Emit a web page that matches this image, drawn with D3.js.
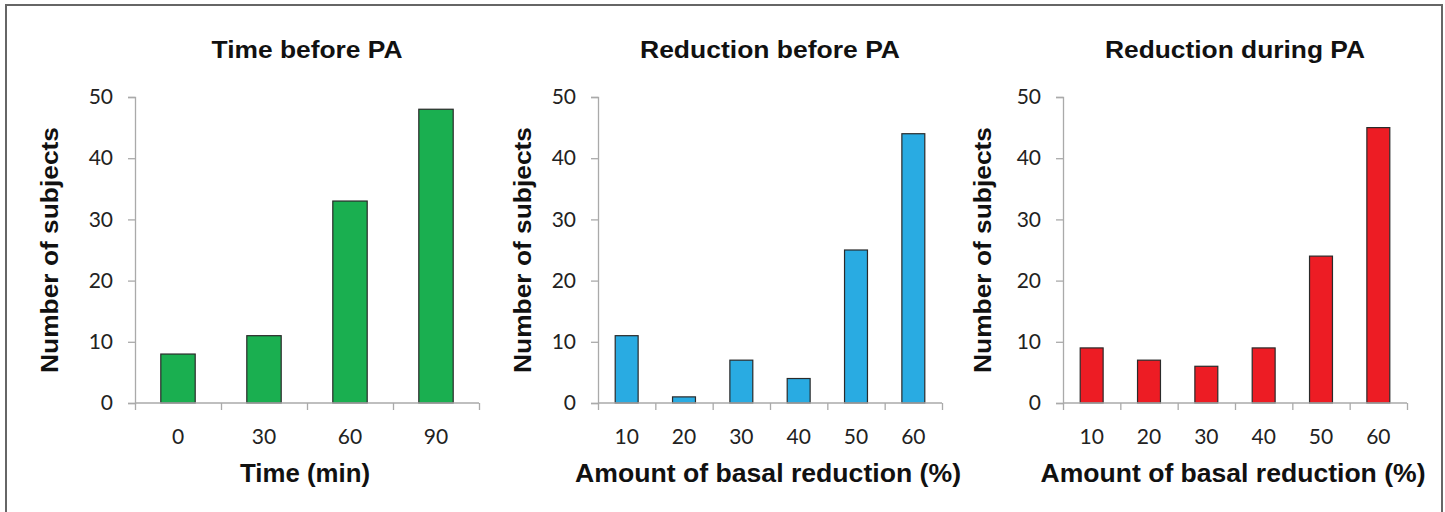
<!DOCTYPE html>
<html>
<head>
<meta charset="utf-8">
<script src="https://cdn.jsdelivr.net/npm/d3@7"></script>
<style>
  html, body { margin: 0; padding: 0; background: #fff; }
  svg { display: block; }
</style>
</head>
<body>
<svg id="chart" width="1445" height="512"></svg>
<script>
// ---- data ----
const titles = ["Time before PA", "Reduction before PA", "Reduction during PA"];
const xTitles = ["Time (min)", "Amount of basal reduction (%)", "Amount of basal reduction (%)"];
const yTitle = "Number of subjects";
const timeCats = ["0", "30", "60", "90"];
const timeValues = [8, 11, 33, 48];
const redCats = ["10", "20", "30", "40", "50", "60"];
const redBeforeValues = [11, 1, 7, 4, 25, 44];
const redDuringValues = [9, 7, 6, 9, 24, 45];
const yTicks = [0, 10, 20, 30, 40, 50];
const colors = ["#1aaf50", "#29abe2", "#ed1c24"];

// ---- layout ----
const panels = [
  { cats: timeCats, vals: timeValues, x0: 135, x1: 479, yLabX: 58, titleLen: 191, xTitleLen: 130 },
  { cats: redCats, vals: redBeforeValues, x0: 598, x1: 942, yLabX: 531, titleLen: 260, xTitleLen: 386 },
  { cats: redCats, vals: redDuringValues, x0: 1063, x1: 1407, yLabX: 991, titleLen: 260, xTitleLen: 385 }
];
const yTop = 97, yBot = 403;
const titleFont = "'Liberation Sans', Arial, Helvetica, sans-serif";
const tickFont = "Lato, 'Open Sans', sans-serif";

const svg = d3.select("#chart");

// outer frame
svg.append("rect")
  .attr("x", 6).attr("y", 5).attr("width", 1436).attr("height", 540)
  .attr("fill", "none").attr("stroke", "#666").attr("stroke-width", 2);

const y = d3.scaleLinear().domain([0, 50]).range([yBot, yTop]);

panels.forEach((p, i) => {
  const g = svg.append("g");
  const x = d3.scaleBand().domain(p.cats).range([p.x0, p.x1]).paddingInner(0.6).paddingOuter(0.3);
  const xb = d3.scaleLinear().domain([0, p.cats.length]).range([p.x0, p.x1]);

  // bars
  g.selectAll("rect.bar").data(p.vals).enter().append("rect")
    .attr("class", "bar")
    .attr("x", (d, j) => x(p.cats[j]))
    .attr("width", x.bandwidth())
    .attr("y", d => y(d))
    .attr("height", d => y(0) - y(d))
    .attr("fill", colors[i])
    .attr("stroke", "#2a2a2a")
    .attr("stroke-width", 1.2);

  // y axis
  const ya = g.append("g").attr("transform", `translate(${p.x0},0)`)
    .call(d3.axisLeft(y).tickValues(yTicks).tickSize(7).tickPadding(15).tickFormat(d3.format("d")));
  ya.select(".domain").attr("stroke", "#aaa").attr("stroke-width", 1.3);
  ya.selectAll(".tick line").attr("stroke", "#aaa").attr("stroke-width", 1.3);
  ya.selectAll(".tick text").attr("font-family", tickFont).attr("font-size", 21).attr("fill", "#222");

  // x axis boundary ticks
  const xa = g.append("g").attr("transform", `translate(0,${yBot})`)
    .call(d3.axisBottom(xb).tickValues(d3.range(p.cats.length + 1)).tickSize(7).tickFormat(""));
  xa.select(".domain").attr("stroke", "#aaa").attr("stroke-width", 1.3).attr("d", `M${p.x0},0H${p.x1}`);
  xa.selectAll(".tick line").attr("stroke", "#aaa").attr("stroke-width", 1.3);

  // x category labels
  const xl = g.append("g").attr("transform", `translate(0,${yBot})`)
    .call(d3.axisBottom(x).tickSize(0).tickPadding(26));
  xl.select(".domain").remove();
  xl.selectAll(".tick text").attr("font-family", tickFont).attr("font-size", 21).attr("fill", "#222");

  const cx = (p.x0 + p.x1) / 2;
  // title
  g.append("text").text(titles[i])
    .attr("x", cx).attr("y", 58).attr("text-anchor", "middle")
    .attr("font-family", titleFont).attr("font-weight", "bold").attr("font-size", 23)
    .attr("textLength", p.titleLen).attr("lengthAdjust", "spacingAndGlyphs").attr("fill", "#111");
  // x title
  g.append("text").text(xTitles[i])
    .attr("x", cx - 2).attr("y", 482).attr("text-anchor", "middle")
    .attr("font-family", titleFont).attr("font-weight", "bold").attr("font-size", 26)
    .attr("textLength", p.xTitleLen).attr("lengthAdjust", "spacingAndGlyphs").attr("fill", "#111");
  // y title
  g.append("text").text(yTitle)
    .attr("transform", `translate(${p.yLabX},250) rotate(-90)`)
    .attr("text-anchor", "middle")
    .attr("font-family", titleFont).attr("font-weight", "bold").attr("font-size", 23)
    .attr("textLength", 246).attr("lengthAdjust", "spacingAndGlyphs").attr("fill", "#111");
});
</script>
</body>
</html>
